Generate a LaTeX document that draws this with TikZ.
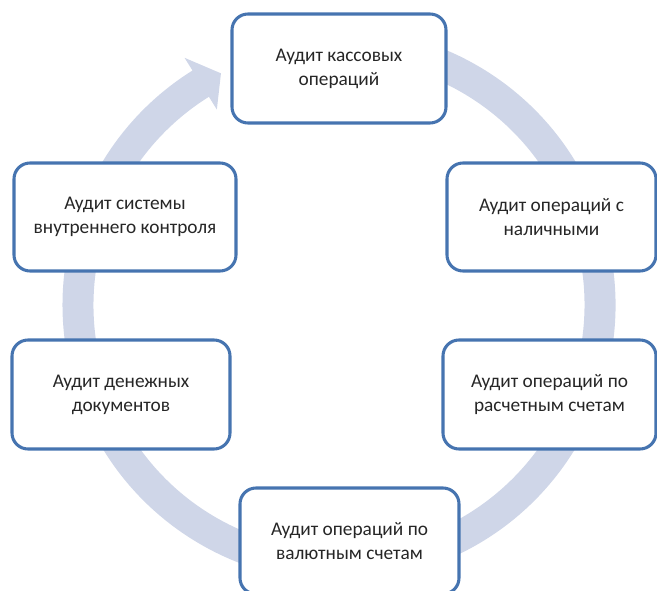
\documentclass[tikz,border=0pt]{standalone}
\usepackage{fontspec}
\setmainfont{Carlito}
\definecolor{ringc}{RGB}{207,214,232}
\definecolor{boxc}{RGB}{70,116,176}
\tikzset{
  stagebox/.style={draw=boxc, line width=2.3pt, fill=white, rounded corners=12pt,
    align=center, inner sep=0pt, font=\fontsize{14.5}{18}\selectfont, text=black!85}
}
\begin{document}
\begin{tikzpicture}[x=0.75pt,y=0.75pt]
\useasboundingbox (0,-591) rectangle (657,0);
\clip (0,-591) rectangle (657,0);
% cycle arrow
\begin{scope}[shift={(339,-305)}]
\fill[ringc] (105:276.5) arc[start angle=105, end angle=-238, radius=276.5]
  -- (122:291.5) -- (117:260) -- (122:230.5)
  -- (-238:245.5) arc[start angle=-238, end angle=105, radius=245.5] -- cycle;
\end{scope}
% stages
\node[stagebox, minimum width=214*0.75pt, minimum height=109*0.75pt] (top) at (339,-68.5) {Аудит кассовых\\операций};
\node[stagebox, minimum width=209*0.75pt, minimum height=108*0.75pt] (ru) at (551.5,-217) {Аудит операций с\\наличными};
\node[stagebox, minimum width=213*0.75pt, minimum height=109*0.75pt] (rl) at (549.5,-394.5) {Аудит операций по\\расчетным счетам};
\node[stagebox, minimum width=219*0.75pt, minimum height=106*0.75pt] (bot) at (349.5,-541) {Аудит операций по\\валютным счетам};
\node[stagebox, minimum width=218*0.75pt, minimum height=109*0.75pt] (ll) at (121,-394.5) {Аудит денежных\\документов};
\node[stagebox, minimum width=222*0.75pt, minimum height=108*0.75pt] (lu) at (125,-217) {Аудит системы\\внутреннего контроля};
\end{tikzpicture}
\end{document}
